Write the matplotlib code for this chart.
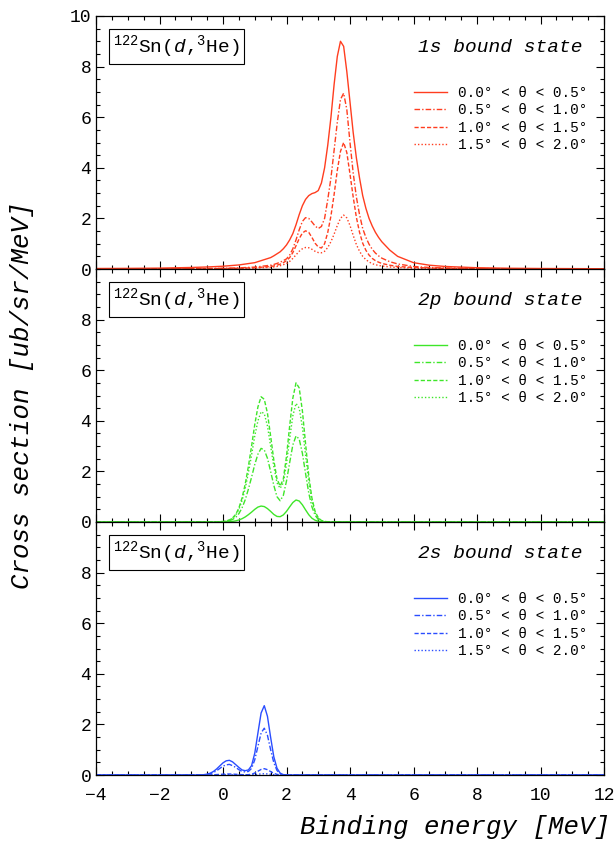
import matplotlib
matplotlib.use("Agg")
import matplotlib.pyplot as plt
from matplotlib.ticker import MultipleLocator

# ---------------- data ----------------
E_1s = [-4.0, -3.0, -2.0, -1.0, -0.5, 0.0, 0.5, 1.0, 1.5,
        1.6, 1.7, 1.8, 1.9, 2.0, 2.1, 2.2, 2.3, 2.4, 2.5,
        2.6, 2.7, 2.8, 2.9, 3.0, 3.1, 3.2, 3.3, 3.4, 3.5,
        3.6, 3.7, 3.8, 3.9, 4.0, 4.1, 4.2, 4.3, 4.4, 4.5,
        4.6, 4.7, 4.8, 4.9, 5.0,
        5.25, 5.5, 6.0, 6.5, 7.0, 8.0, 9.0, 10.0, 11.0, 12.0]
s1_a = [0.02, 0.025, 0.035, 0.06, 0.08, 0.11, 0.16, 0.25, 0.45,
        0.52, 0.6, 0.68, 0.8, 0.95, 1.15, 1.4, 1.75, 2.15, 2.5,
        2.75, 2.9, 2.98, 3.02, 3.1, 3.4, 4.0, 4.9, 6.0, 7.3,
        8.4, 9.0, 8.8, 7.8, 6.6, 5.4, 4.4, 3.6, 2.9, 2.4,
        2.0, 1.7, 1.45, 1.25, 1.08,
        0.75, 0.5, 0.25, 0.15, 0.1, 0.05, 0.03, 0.02, 0.015, 0.01]
s1_b = [0.005, 0.007, 0.01, 0.015, 0.02, 0.03, 0.045, 0.075, 0.15,
        0.18, 0.22, 0.27, 0.33, 0.4, 0.55, 0.8, 1.15, 1.55, 1.88,
        2.03, 2.0, 1.86, 1.7, 1.6, 1.68, 2.0, 2.75, 3.6, 4.7,
        5.8, 6.7, 6.95, 6.3, 5.0, 3.8, 2.85, 2.15, 1.6, 1.25,
        0.98, 0.78, 0.63, 0.52, 0.43,
        0.29, 0.2, 0.1, 0.06, 0.04, 0.02, 0.012, 0.008, 0.006, 0.005]
s1_c = [0.003, 0.004, 0.006, 0.01, 0.014, 0.02, 0.03, 0.05, 0.1,
        0.12, 0.15, 0.19, 0.25, 0.33, 0.45, 0.65, 0.92, 1.2, 1.42,
        1.51, 1.45, 1.25, 1.02, 0.87, 0.83, 1.0, 1.45, 2.1, 2.95,
        3.9, 4.65, 5.0, 4.6, 3.75, 2.85, 2.05, 1.45, 1.02, 0.74,
        0.55, 0.42, 0.33, 0.27, 0.22,
        0.15, 0.1, 0.06, 0.04, 0.025, 0.012, 0.008, 0.005, 0.004, 0.003]
s1_d = [0.002, 0.003, 0.004, 0.007, 0.01, 0.014, 0.02, 0.035, 0.07,
        0.08, 0.1, 0.13, 0.17, 0.22, 0.3, 0.42, 0.56, 0.7, 0.8,
        0.85, 0.84, 0.78, 0.7, 0.65, 0.64, 0.7, 0.85, 1.08, 1.38,
        1.72, 2.0, 2.13, 2.02, 1.72, 1.33, 0.97, 0.7, 0.5, 0.37,
        0.28, 0.21, 0.17, 0.14, 0.12,
        0.08, 0.06, 0.035, 0.022, 0.015, 0.008, 0.005, 0.003, 0.002, 0.002]

E_2p = [-4.0, -1.0, -0.5, -0.2, -0.1,
        0.0, 0.1, 0.2, 0.3, 0.4, 0.5, 0.6, 0.7, 0.8, 0.9,
        1.0, 1.1, 1.2, 1.3, 1.4, 1.5, 1.6, 1.7, 1.8, 1.9,
        2.0, 2.1, 2.2, 2.3, 2.4, 2.5, 2.6, 2.7, 2.8, 2.9,
        3.0, 3.1, 3.2, 3.3,
        3.5, 4.0, 6.0, 12.0]
p2_a = [0, 0, 0, 0, 0,
        0.003, 0.006, 0.012, 0.024, 0.045, 0.08, 0.13, 0.2, 0.29, 0.39,
        0.5, 0.59, 0.63, 0.61, 0.53, 0.42, 0.3, 0.22, 0.21, 0.28,
        0.42, 0.6, 0.77, 0.87, 0.83, 0.68, 0.48, 0.29, 0.15, 0.07,
        0.03, 0.01, 0.0, 0.0,
        0, 0, 0, 0]
p2_b = [0, 0, 0, 0, 0.005,
        0.01, 0.02, 0.05, 0.1, 0.18, 0.33, 0.56, 0.88, 1.3, 1.77,
        2.27, 2.68, 2.91, 2.85, 2.52, 2.0, 1.45, 1.0, 0.84, 1.05,
        1.62, 2.35, 3.05, 3.4, 3.28, 2.72, 1.92, 1.15, 0.6, 0.27,
        0.1, 0.04, 0.01, 0.0,
        0, 0, 0, 0]
p2_c = [0, 0, 0, 0, 0.01,
        0.02, 0.04, 0.08, 0.16, 0.3, 0.55, 0.95, 1.5, 2.2, 3.0,
        3.85, 4.55, 4.95, 4.85, 4.3, 3.4, 2.45, 1.7, 1.42, 1.7,
        2.6, 3.8, 4.9, 5.5, 5.3, 4.4, 3.1, 1.85, 0.95, 0.42,
        0.17, 0.06, 0.02, 0.01,
        0, 0, 0, 0]
p2_d = [0, 0, 0, 0, 0.01,
        0.02, 0.035, 0.07, 0.14, 0.27, 0.5, 0.85, 1.33, 1.95, 2.65,
        3.4, 4.0, 4.36, 4.28, 3.8, 3.0, 2.2, 1.55, 1.33, 1.55,
        2.3, 3.3, 4.2, 4.69, 4.5, 3.75, 2.65, 1.6, 0.82, 0.37,
        0.15, 0.05, 0.02, 0.005,
        0, 0, 0, 0]

E_2s = [-4.0, -1.0,
        -0.8, -0.7, -0.6, -0.5, -0.4, -0.3, -0.2, -0.1, 0.0, 0.1,
        0.2, 0.3, 0.4, 0.5, 0.6, 0.7, 0.8, 0.9, 1.0, 1.1,
        1.2, 1.3, 1.4, 1.5, 1.6, 1.7, 1.8, 1.9, 2.0, 2.1,
        2.2, 2.5, 4.0, 12.0]
s2_a = [0, 0,
        0.002, 0.005, 0.013, 0.033, 0.073, 0.14, 0.24, 0.36, 0.48, 0.56,
        0.58, 0.52, 0.41, 0.3, 0.2, 0.17, 0.2, 0.37, 0.86, 1.66,
        2.45, 2.74, 2.32, 1.49, 0.72, 0.27, 0.075, 0.015, 0.003, 0.0,
        0, 0, 0, 0]
s2_b = [0, 0,
        0.001, 0.004, 0.01, 0.024, 0.053, 0.1, 0.17, 0.26, 0.35, 0.4,
        0.42, 0.37, 0.3, 0.21, 0.14, 0.12, 0.14, 0.26, 0.6, 1.13,
        1.66, 1.85, 1.57, 1.0, 0.49, 0.18, 0.05, 0.01, 0.002, 0.0,
        0, 0, 0, 0]
s2_c = [0, 0,
        0, 0, 0.001, 0.002, 0.005, 0.01, 0.017, 0.025, 0.033, 0.039,
        0.04, 0.036, 0.028, 0.02, 0.014, 0.01, 0.013, 0.03, 0.078, 0.15,
        0.22, 0.25, 0.21, 0.136, 0.066, 0.025, 0.007, 0.001, 0.0, 0.0,
        0, 0, 0, 0]
s2_d = [0, 0,
        0, 0, 0, 0, 0, 0.003, 0.005, 0.007, 0.01, 0.011,
        0.012, 0.01, 0.008, 0.006, 0.004, 0.003, 0.003, 0.006, 0.015, 0.03,
        0.044, 0.05, 0.042, 0.027, 0.013, 0.005, 0.001, 0, 0, 0,
        0, 0, 0, 0]

angle_labels = ["0.0° < θ < 0.5°", "0.5° < θ < 1.0°",
                "1.0° < θ < 1.5°", "1.5° < θ < 2.0°"]
state_titles = ["1s bound state", "2p bound state", "2s bound state"]
reaction_label = r"$^{122}$Sn($d$,$^{3}$He)"

# ---------------- style ----------------
MONO = "Liberation Mono"
plt.rcParams["font.family"] = [MONO, "DejaVu Sans"]
plt.rcParams["mathtext.fontset"] = "custom"
plt.rcParams["mathtext.rm"] = MONO
plt.rcParams["mathtext.it"] = MONO + ":italic"
plt.rcParams["mathtext.bf"] = MONO + ":bold"

colors = ["#ff3d1f", "#3ee629", "#2a4dff"]
styles = ["-", (0, (4, 1.5, 1, 1.5)), (0, (3, 1.5)), (0, (1, 1.5))]

panels = [
    (E_1s, [s1_a, s1_b, s1_c, s1_d]),
    (E_2p, [p2_a, p2_b, p2_c, p2_d]),
    (E_2s, [s2_a, s2_b, s2_c, s2_d]),
]

fig = plt.figure(figsize=(6.14, 8.42), dpi=100)
left = 96 / 614
width = (604 - 96) / 614
ph = 253 / 842
bottom0 = 1 - 775 / 842

for i, (E, series) in enumerate(panels):
    ax = fig.add_axes([left, bottom0 + (2 - i) * ph, width, ph])
    col = colors[i]
    for j, ys in enumerate(series):
        ax.plot(E, ys, color=col, lw=1.0, ls=styles[j], label=angle_labels[j])
    ax.set_xlim(-4, 12)
    ax.set_ylim(0, 10)
    ax.xaxis.set_major_locator(MultipleLocator(2))
    ax.xaxis.set_minor_locator(MultipleLocator(0.5))
    ax.yaxis.set_major_locator(MultipleLocator(2))
    ax.yaxis.set_minor_locator(MultipleLocator(0.5))
    ax.tick_params(which="both", direction="in", top=True, right=True,
                   labelsize=13, width=0.8)
    ax.tick_params(which="major", length=6)
    ax.tick_params(which="minor", length=3)
    ax.tick_params(axis="x", which="major", pad=9)
    for sp in ax.spines.values():
        sp.set_linewidth(0.9)
    if i > 0:
        ax.set_yticks([0, 2, 4, 6, 8])
        ax.yaxis.set_minor_locator(MultipleLocator(0.5))
    if i < 2:
        ax.tick_params(labelbottom=False)
    ax.text(0.034, 0.88, reaction_label, transform=ax.transAxes,
            fontsize=14, ha="left", va="center",
            bbox=dict(boxstyle="square,pad=0.2", fc="white", ec="black", lw=0.8))
    ax.text(0.957, 0.877, state_titles[i], transform=ax.transAxes,
            fontsize=14, ha="right", va="center", style="italic")
    ax.legend(loc="upper left", bbox_to_anchor=(0.625, 0.725), frameon=False,
              fontsize=10.4, handlelength=2.3, handletextpad=0.8,
              labelspacing=0.25, borderpad=0, borderaxespad=0)
    if i == 2:
        ax.set_xlabel("Binding energy [MeV]", fontsize=18.5, style="italic")
        ax.xaxis.set_label_coords(1.012, -0.16)
        ax.xaxis.label.set_ha("right")

fig.text(22 / 614, 1 - 395 / 842, "Cross section [ub/sr/MeV]", rotation=90,
         fontsize=18.5, style="italic", ha="center", va="center")

fig.savefig("out.png", dpi=100)
